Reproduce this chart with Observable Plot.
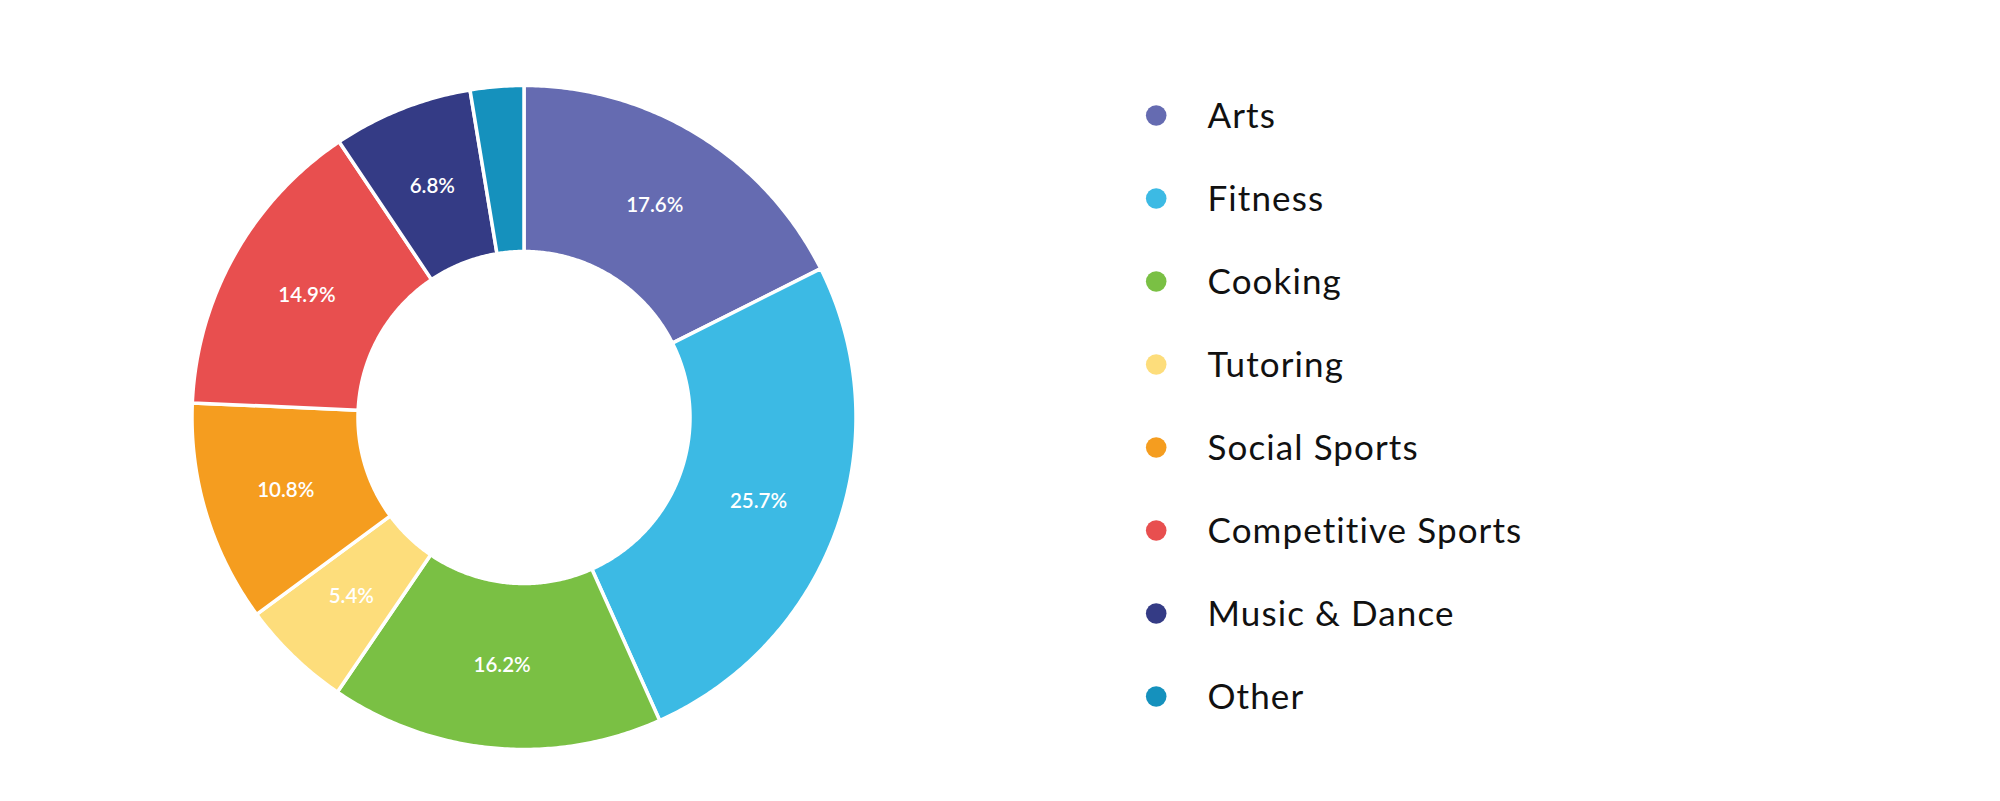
<!DOCTYPE html>
<html>
<head>
<meta charset="utf-8">
<script src="https://cdn.jsdelivr.net/npm/d3@7"></script>
<script src="https://cdn.jsdelivr.net/npm/@observablehq/plot@0.6"></script>
<style>
  html, body { margin: 0; padding: 0; background: #fff; }
  #wrap { display: flex; flex-direction: row; width: 2000px; height: 801px; }
  #legend text { letter-spacing: 1.1px; }
</style>
</head>
<body>
<div id="wrap"><div id="donut"></div><div id="legend"></div></div>
<script>
const categories = ["Arts", "Fitness", "Cooking", "Tutoring", "Social Sports", "Competitive Sports", "Music & Dance", "Other"];
const values = [17.6, 25.7, 16.2, 5.4, 10.8, 14.9, 6.8, 2.6];
const colors = ["#656BB1", "#3CBAE4", "#7AC044", "#FDDD7B", "#F59D1F", "#E84F4F", "#343B85", "#1591BD"];
const labelMin = 3; // slices below this share carry no label

const innerRatio = 0.5;
const data = categories.map((c, i) => ({category: c, value: values[i]}));
const arcs = d3.pie().sort(null).value(d => d.value).startAngle(0).endAngle(2 * Math.PI)(data);

// polygon outlines of each slice in unit coordinates (angle measured clockwise from the top)
const outline = [];
for (const a of arcs) {
  const n = Math.max(2, Math.ceil((a.endAngle - a.startAngle) / (Math.PI / 360)));
  const pts = [];
  for (let k = 0; k <= n; k++) {
    const t = a.startAngle + (a.endAngle - a.startAngle) * k / n;
    pts.push({category: a.data.category, x: Math.sin(t), y: Math.cos(t)});
  }
  for (let k = n; k >= 0; k--) {
    const t = a.startAngle + (a.endAngle - a.startAngle) * k / n;
    pts.push({category: a.data.category, x: innerRatio * Math.sin(t), y: innerRatio * Math.cos(t)});
  }
  pts.push({...pts[0]});
  outline.push(...pts);
}

const labelR = (1 + innerRatio) / 2;
const labels = arcs.filter(a => a.data.value > labelMin).map(a => {
  const m = (a.startAngle + a.endAngle) / 2;
  return {category: a.data.category, text: a.data.value.toFixed(1) + "%", x: labelR * Math.sin(m), y: labelR * Math.cos(m)};
});

const cx = 523.5, cy = 417, R = 332;

const donut = Plot.plot({
  width: 1050,
  height: 801,
  margin: 0,
  x: {domain: [-1, 1], range: [cx - R, cx + R], axis: null},
  y: {domain: [-1, 1], range: [cy + R, cy - R], axis: null},
  color: {domain: categories, range: colors},
  style: {fontFamily: "Lato, sans-serif", background: "white"},
  marks: [
    Plot.line(outline, {x: "x", y: "y", z: "category", fill: "category", stroke: "white", strokeWidth: 3.5, curve: "linear"}),
    Plot.text(labels, {x: "x", y: "y", text: "text", fill: "white", fontSize: 20.5, fontWeight: 600, textAnchor: "middle"})
  ]
});
document.getElementById("donut").appendChild(donut);

const legend = Plot.plot({
  width: 950,
  height: 801,
  marginLeft: 105.7,
  marginRight: 0,
  marginTop: 0,
  marginBottom: 0,
  y: {type: "point", domain: categories, range: [113.3, 698.3], padding: 0, axis: null},
  color: {domain: categories, range: colors},
  style: {fontFamily: "Lato, sans-serif", background: "white"},
  marks: [
    Plot.dot(categories, {y: d => d, fill: d => d, r: 10.3, frameAnchor: "left"}),
    Plot.text(categories, {y: d => d, text: d => d, frameAnchor: "left", dx: 51.3, dy: 1, textAnchor: "start", fontSize: 35, fill: "#111"})
  ]
});
document.getElementById("legend").appendChild(legend);
</script>
</body>
</html>
